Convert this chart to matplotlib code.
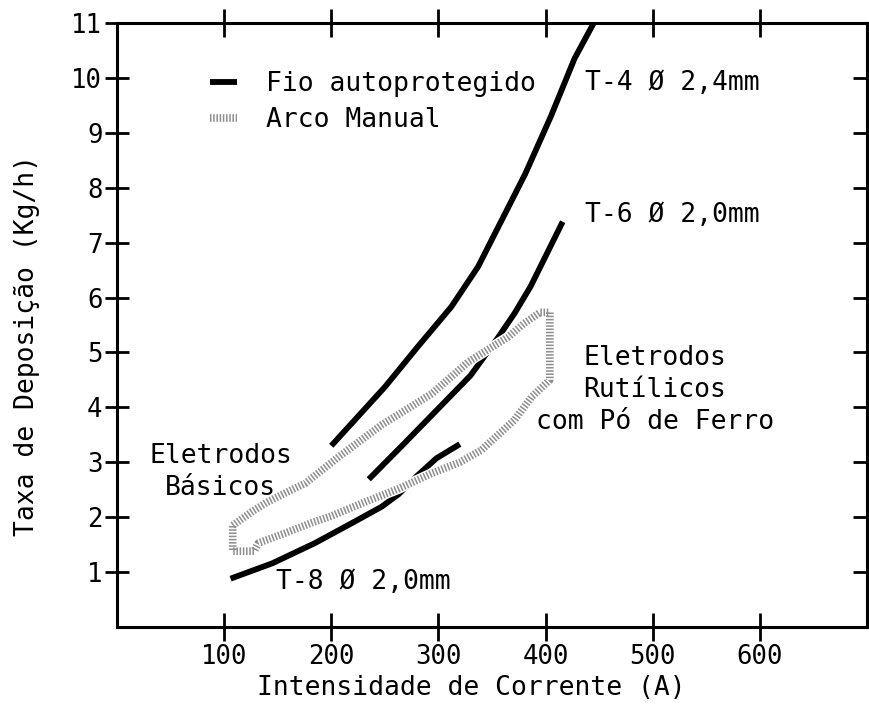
#!/usr/bin/env python3
"""Taxa de deposição vs intensidade de corrente (fio autoprotegido x arco manual)."""

import matplotlib

matplotlib.use("Agg")
import matplotlib.pyplot as plt  # type: ignore
from matplotlib.lines import Line2D  # type: ignore

# ---- data ----
# Fio autoprotegido T-4 (2,4 mm)
t4_current = [200, 250, 281, 312, 337, 356, 381, 405, 427, 445]
t4_rate = [3.30, 4.37, 5.11, 5.83, 6.56, 7.29, 8.25, 9.30, 10.35, 11.00]

# Fio autoprotegido T-6 (2,0 mm)
t6_current = [235, 269, 300, 330, 356, 371, 386, 400, 416]
t6_rate = [2.69, 3.36, 3.98, 4.58, 5.28, 5.71, 6.20, 6.75, 7.38]

# Fio autoprotegido T-8 (2,0 mm)
t8_current = [106, 145, 185, 220, 247, 263, 280, 298, 320]
t8_rate = [0.88, 1.16, 1.53, 1.90, 2.19, 2.42, 2.75, 3.07, 3.33]

# Arco manual - outline of the region for basic and rutile electrodes
band_current = [108, 126, 139, 157, 176, 207, 247, 294, 328, 346, 365, 380, 395,
                404, 404, 387, 371, 340, 320, 294, 263, 232, 200, 182, 157,
                132, 128, 108, 108]
band_rate = [1.85, 2.10, 2.26, 2.44, 2.62, 3.10, 3.68, 4.25, 4.83, 5.05, 5.28, 5.53, 5.73,
             5.73, 4.50, 4.19, 3.77, 3.22, 3.00, 2.80, 2.52, 2.28, 2.02, 1.90, 1.71,
             1.53, 1.38, 1.38, 1.85]

x_ticks = [100, 200, 300, 400, 500, 600]
y_ticks = [1, 2, 3, 4, 5, 6, 7, 8, 9, 10, 11]

FONT = "DejaVu Sans Mono"
FS = 19

plt.rcParams["font.family"] = [FONT, "DejaVu Sans"]

fig = plt.figure(figsize=(8.7, 7.04), dpi=100)
ax = fig.add_axes([0.1345, 0.1094, 0.862, 0.858])

# solid curves
line_kw = dict(color="black", lw=4.2, solid_capstyle="butt")
ax.plot(t4_current, t4_rate, **line_kw)
ax.plot(t6_current, t6_rate, **line_kw)
ax.plot(t8_current, t8_rate, **line_kw)

# dotted band (white underneath hides what it crosses)
ax.plot(band_current, band_rate, color="white", lw=7.5, solid_joinstyle="miter")
band_kw = dict(color="#8e8e8e", lw=5.5, dashes=(0.2, 0.22))
ax.plot(band_current, band_rate, **band_kw)

ax.set_xlim(0, 700)
ax.set_ylim(0, 11)
ax.set_xticks(x_ticks)
ax.set_yticks(y_ticks)
ax.tick_params(axis="x", direction="inout", length=20, width=2, top=True,
               labelsize=FS - 0.5, pad=2)
ax.tick_params(axis="y", direction="inout", length=17, width=2, right=False,
               labelsize=FS - 0.5, pad=2)
for s in ax.spines.values():
    s.set_linewidth(2.2)

# right-hand ticks point inward only
rax = ax.secondary_yaxis("right")
rax.set_yticks(y_ticks[:-1])
rax.tick_params(direction="in", length=10, width=2, labelright=False)
rax.spines["right"].set_linewidth(2.2)

# axis titles
fig.text(471 / 870, 1 - 688 / 704, "Intensidade de Corrente (A)",
         ha="center", va="center", fontsize=FS)
fig.text(27 / 870, 1 - 345 / 704, "Taxa de Deposição (Kg/h)",
         ha="center", va="center", rotation=90, fontsize=FS)

# annotations
ax.text(437, 9.90, "T-4 Ø 2,4mm", ha="left", va="center", fontsize=FS)
ax.text(437, 7.50, "T-6 Ø 2,0mm", ha="left", va="center", fontsize=FS)
ax.text(148, 0.82, "T-8 Ø 2,0mm", ha="left", va="center", fontsize=FS)
ax.text(502, 4.31, "Eletrodos\nRutílicos\ncom Pó de Ferro", ha="center",
        va="center", fontsize=FS, linespacing=1.3)
ax.text(97, 2.83, "Eletrodos\nBásicos", ha="center", va="center",
        fontsize=FS, linespacing=1.3)

# legend
handles = [
    Line2D([], [], color="black", lw=4.2, solid_capstyle="butt"),
    Line2D([], [], color="#8e8e8e", lw=5.5, dashes=(0.2, 0.22)),
]
ax.legend(handles, ["Fio autoprotegido", "Arco Manual"], loc="upper left",
          bbox_to_anchor=(0.1235, 0.92), frameon=False, fontsize=FS,
          handlelength=1.05, handletextpad=1.1, labelspacing=0.36,
          borderpad=0, borderaxespad=0)

fig.savefig("out.png", dpi=100)
